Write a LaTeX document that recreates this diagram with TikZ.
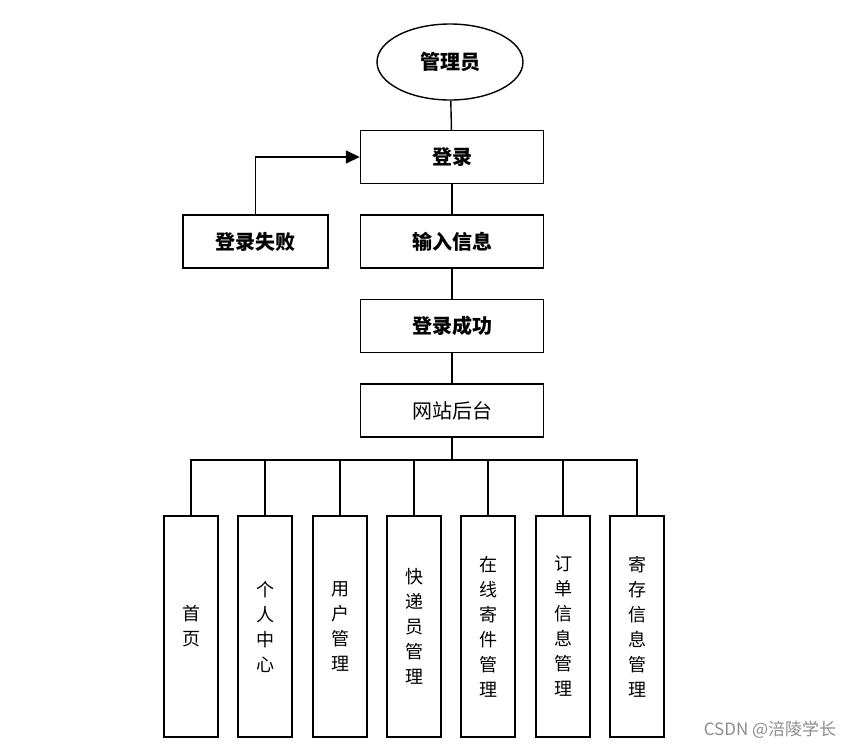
\documentclass[tikz,border=0pt]{standalone}
\usepackage{fontspec}
\newfontfamily\cjk{Noto Sans CJK SC}
\usetikzlibrary{arrows.meta,shapes.geometric}

\tikzset{
  stepbox/.style={draw, minimum width=183pt, minimum height=53pt, font=\cjk\bfseries\fontsize{20}{24}\selectfont},
  plainbox/.style={draw, minimum width=183pt, minimum height=53pt, font=\cjk\fontsize{20}{24}\selectfont},
  modbox/.style={draw, minimum width=54pt, minimum height=221pt, align=center, font=\cjk\fontsize{18}{25}\selectfont},
}

\begin{document}
\begin{tikzpicture}[x=1pt, y=-1pt, line width=1.4pt]
    \useasboundingbox (0,0) rectangle (854,748);

    % Node definitions
    \node (admin) at (450, 62) [ellipse, draw, minimum width=146pt, minimum height=76pt, font=\cjk\bfseries\fontsize{20}{24}\selectfont] {管理员};
    \node (login) at (452, 157) [stepbox] {登录};
    \node (fail) at (255.5, 241.5) [stepbox, minimum width=145pt] {登录失败};
    \node (input) at (452, 241.5) [stepbox] {输入信息};
    \node (ok) at (452, 326) [stepbox] {登录成功};
    \node (backend) at (452, 410.5) [plainbox] {网站后台};
    \coordinate (bus) at (452, 460);

    % Module boxes
    \node (home) at (191, 626.5) [modbox] {首\\页};
    \node (self) at (265, 626.5) [modbox] {个\\人\\中\\心};
    \node (user) at (340, 626.5) [modbox] {用\\户\\管\\理};
    \node (courier) at (414, 626.5) [modbox] {快\\递\\员\\管\\理};
    \node (send) at (488, 626.5) [modbox] {在\\线\\寄\\件\\管\\理};
    \node (order) at (563, 626.5) [modbox] {订\\单\\信\\息\\管\\理};
    \node (store) at (637, 626.5) [modbox] {寄\\存\\信\\息\\管\\理};

    % Edge definitions
    \draw (admin) -- (login);
    \draw (login) -- (input);
    \draw (input) -- (ok);
    \draw (ok) -- (backend);
    \draw[-{Triangle[length=14pt, width=13pt]}] (fail.north) |- (login.west);
    \draw (backend) -- (bus);
    \foreach \m in {home, self, user, courier, send, order, store}
        \draw (bus) -| (\m.north);

    \node (mark) at (770, 730) [font=\cjk\fontsize{17}{20}\selectfont, text=black!45] {CSDN @涪陵学长};
\end{tikzpicture}
\end{document}
